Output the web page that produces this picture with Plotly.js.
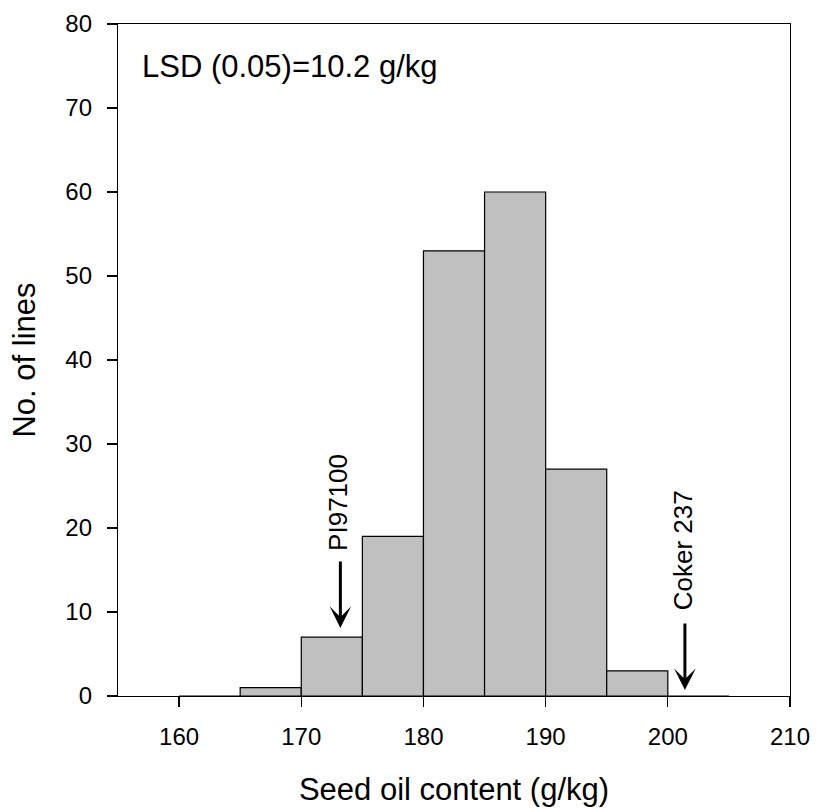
<!DOCTYPE html>
<html>
<head>
<meta charset="utf-8">
<script src="https://cdn.plot.ly/plotly-3.0.1.min.js"></script>
<style>html,body{margin:0;padding:0;background:#fff;}#chart{width:817px;height:809px;}</style>
</head>
<body>
<div id="chart"></div>
<script>
// Bin lower edges (g/kg) and number of lines in each 5 g/kg bin
const binStarts = [160, 165, 170, 175, 180, 185, 190, 195, 200];
const binWidth = 5;
const counts = [0, 1, 7, 19, 53, 60, 27, 3, 0];
const xTicks = [160, 170, 180, 190, 200, 210];
const yTicks = [0, 10, 20, 30, 40, 50, 60, 70, 80];
// Marked parents: [name, oil content, arrow tip count, arrow tail count]
const parentNames = ["PI97100", "Coker 237"];
const parentX = [173.2, 201.4];
const parentTipY = [8.1, 0.7];
const parentTailY = [16.2, 8.8];
const parentLabelY = [23.1, 17.4];
const lsdText = "LSD (0.05)=10.2 g/kg";

const FONT = "Liberation Sans, Arial, Helvetica, sans-serif";
const centers = binStarts.map(s => s + binWidth / 2);

const trace = {
  type: "bar",
  x: centers,
  y: counts,
  width: binStarts.map(() => binWidth),
  marker: {color: "#c0c0c0", line: {color: "#000000", width: 1.2}},
  hoverinfo: "x+y",
  showlegend: false
};

const annotations = [];
annotations.push({
  text: lsdText, xref: "x", yref: "y", x: 156.8, y: 74.9,
  xanchor: "left", yanchor: "middle", showarrow: false,
  font: {family: FONT, size: 31, color: "#000"}
});
parentNames.forEach((name, i) => {
  annotations.push({
    text: "", xref: "x", yref: "y", x: parentX[i], y: parentTipY[i],
    axref: "x", ayref: "y", ax: parentX[i], ay: parentTailY[i],
    showarrow: true, arrowhead: 3, arrowsize: 1.2, arrowwidth: 3, arrowcolor: "#000"
  });
  annotations.push({
    text: name, xref: "x", yref: "y", x: parentX[i] - 0.2, y: parentLabelY[i],
    textangle: -90, showarrow: false, xanchor: "center", yanchor: "middle",
    font: {family: FONT, size: 26, color: "#000"}
  });
});

const layout = {
  width: 817, height: 809,
  margin: {l: 118, r: 27, t: 24, b: 113, pad: 0},
  paper_bgcolor: "#fff", plot_bgcolor: "#fff",
  font: {family: FONT, color: "#000"},
  bargap: 0,
  xaxis: {
    range: [155, 210], tickvals: xTicks, ticktext: xTicks.map(String),
    ticks: "outside", ticklen: 10, tickwidth: 1.2, tickcolor: "#000",
    ticklabelstandoff: 9,
    showline: true, linecolor: "#000", linewidth: 1.2, mirror: true,
    showgrid: false, zeroline: false,
    tickfont: {family: FONT, size: 24, color: "#000"},
    title: {text: "Seed oil content (g/kg)", font: {family: FONT, size: 31, color: "#000"}, standoff: 29},
    automargin: false
  },
  yaxis: {
    range: [0, 80], tickvals: yTicks, ticktext: yTicks.map(String),
    ticks: "outside", ticklen: 10, tickwidth: 1.2, tickcolor: "#000",
    ticklabelstandoff: 10,
    showline: true, linecolor: "#000", linewidth: 1.2, mirror: true,
    showgrid: false, zeroline: false,
    tickfont: {family: FONT, size: 24, color: "#000"},
    title: {text: "No. of lines", font: {family: FONT, size: 31, color: "#000"}, standoff: 20},
    automargin: false
  },
  annotations: annotations
};

Plotly.newPlot("chart", [trace], layout, {displayModeBar: false, staticPlot: true});
</script>
</body>
</html>
